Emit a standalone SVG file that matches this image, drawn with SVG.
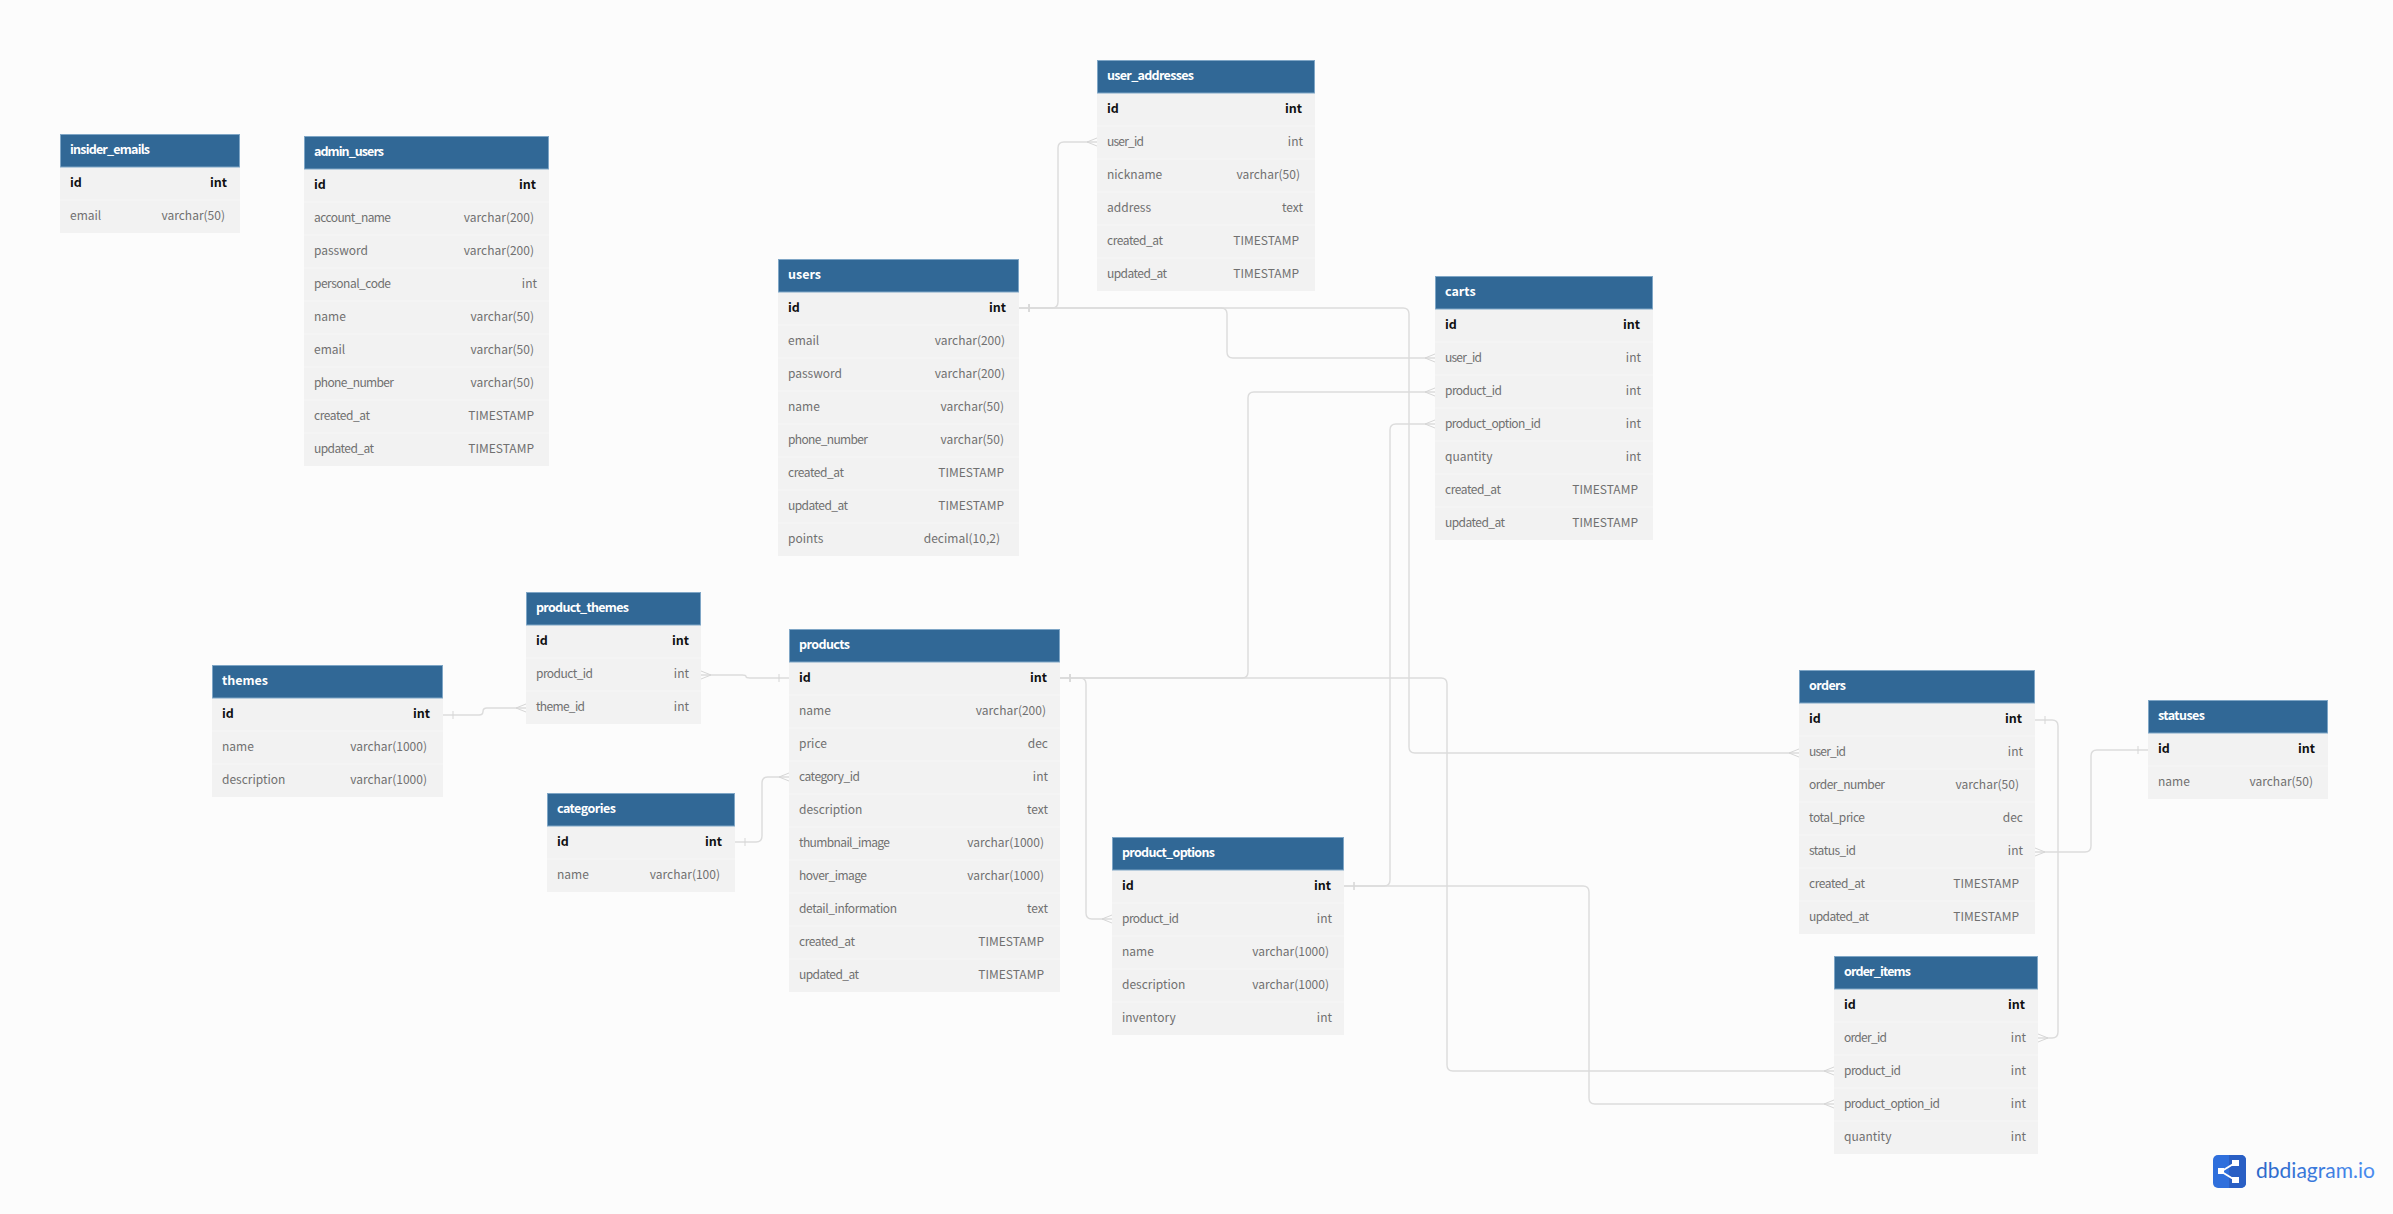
<svg xmlns="http://www.w3.org/2000/svg" width="2393" height="1214" viewBox="0 0 2393 1214">
<style>
text{font-family:"Noto Sans CJK KR","Noto Sans",sans-serif;font-size:12px;transform:translateY(-.5px)}
.hd{fill:#316896;stroke:#7fa6c6;stroke-width:1}
.bd{fill:#f2f2f2}
.sep{stroke:#f6f6f6;stroke-width:1;fill:none}
.tt{fill:#fff;font-weight:700;font-size:12.500px}
.pk{fill:#111;font-weight:700;font-size:12.500px}
.f{fill:#707070}
.e{text-anchor:end}
.c{fill:none;stroke:#dcdcdc;stroke-width:1.4}
.m{fill:none;stroke:#d6d6d6;stroke-width:1}
</style>
<defs>
<marker id="one" markerUnits="userSpaceOnUse" markerWidth="14" markerHeight="14" viewBox="-12 -7 14 14" refX="0" refY="0" orient="auto-start-reverse"><path class="m" d="M-10 -4V4"/></marker>
<marker id="many" markerUnits="userSpaceOnUse" markerWidth="14" markerHeight="14" viewBox="-12 -7 14 14" refX="0" refY="0" orient="auto-start-reverse"><path class="m" d="M0 -4L-10 0L0 4"/></marker>
<linearGradient id="lg" x1="0" x2="1" y1="0" y2="0"><stop offset="0" stop-color="#2a66c8"/><stop offset="1" stop-color="#4a8df0"/></linearGradient>
</defs>
<rect width="2393" height="1214" fill="#fcfcfc"/>
<g id="connectors">
<path class="c" marker-start="url(#one)" marker-end="url(#many)" d="M1019 308H1052Q1058 308 1058 302V148Q1058 142 1064 142H1097"/>
<path class="c" marker-start="url(#one)" marker-end="url(#many)" d="M1019 308H1221Q1227 308 1227 314V352Q1227 358 1233 358H1435"/>
<path class="c" marker-start="url(#one)" marker-end="url(#many)" d="M1019 308H1403Q1409 308 1409 314V747Q1409 753 1415 753H1799"/>
<path class="c" marker-start="url(#one)" marker-end="url(#many)" d="M1060 678H1242Q1248 678 1248 672V398Q1248 392 1254 392H1435"/>
<path class="c" marker-start="url(#one)" marker-end="url(#many)" d="M1060 678H1080Q1086 678 1086 684V913Q1086 919 1092 919H1112"/>
<path class="c" marker-start="url(#one)" marker-end="url(#many)" d="M1060 678H1441Q1447 678 1447 684V1065Q1447 1071 1453 1071H1834"/>
<path class="c" marker-start="url(#one)" marker-end="url(#many)" d="M1344 886H1384Q1390 886 1390 880V430Q1390 424 1396 424H1435"/>
<path class="c" marker-start="url(#one)" marker-end="url(#many)" d="M1344 886H1583Q1589 886 1589 892V1098Q1589 1104 1595 1104H1834"/>
<path class="c" marker-start="url(#one)" marker-end="url(#many)" d="M2035 720H2052Q2058 720 2058 726V1032Q2058 1038 2052 1038H2038"/>
<path class="c" marker-start="url(#one)" marker-end="url(#many)" d="M2148 750H2097Q2091 750 2091 756V846Q2091 852 2085 852H2035"/>
<path class="c" marker-start="url(#one)" marker-end="url(#many)" d="M789 678H750Q746 678 746 676.500Q746 675 742 675H701"/>
<path class="c" marker-start="url(#one)" marker-end="url(#many)" d="M443 715H479Q483 715 483 711.500Q483 708 487 708H526"/>
<path class="c" marker-start="url(#one)" marker-end="url(#many)" d="M735 842H756Q762 842 762 836V783Q762 777 768 777H789"/>
</g>
<g id="insider_emails" transform="translate(60 134)"><rect class="bd" y="33" width="180" height="66"/><path class="sep" d="M0 66H180"/><rect class="hd" x=".5" y=".5" width="179" height="32.500"/><text class="tt" x="10" y="20" textLength="80">insider_emails</text>
<text class="pk" x="10" y="53">id</text><text class="pk e" x="167" y="53">int</text>
<text class="f" x="10" y="86">email</text><text class="f e" x="165" y="86">varchar(50)</text></g>
<g id="admin_users" transform="translate(304 136)"><rect class="bd" y="33" width="245" height="297"/><path class="sep" d="M0 66H245M0 99H245M0 132H245M0 165H245M0 198H245M0 231H245M0 264H245M0 297H245"/><rect class="hd" x=".5" y=".5" width="244" height="32.500"/><text class="tt" x="10" y="20" textLength="70">admin_users</text>
<text class="pk" x="10" y="53">id</text><text class="pk e" x="232" y="53">int</text>
<text class="f" x="10" y="86" textLength="77">account_name</text><text class="f e" x="230" y="86">varchar(200)</text>
<text class="f" x="10" y="119">password</text><text class="f e" x="230" y="119">varchar(200)</text>
<text class="f" x="10" y="152" textLength="77">personal_code</text><text class="f e" x="233" y="152">int</text>
<text class="f" x="10" y="185">name</text><text class="f e" x="230" y="185">varchar(50)</text>
<text class="f" x="10" y="218">email</text><text class="f e" x="230" y="218">varchar(50)</text>
<text class="f" x="10" y="251" textLength="80">phone_number</text><text class="f e" x="230" y="251">varchar(50)</text>
<text class="f" x="10" y="284" textLength="56">created_at</text><text class="f e" x="230" y="284">TIMESTAMP</text>
<text class="f" x="10" y="317" textLength="60">updated_at</text><text class="f e" x="230" y="317">TIMESTAMP</text></g>
<g id="user_addresses" transform="translate(1097 60)"><rect class="bd" y="33" width="218" height="198"/><path class="sep" d="M0 66H218M0 99H218M0 132H218M0 165H218M0 198H218"/><rect class="hd" x=".5" y=".5" width="217" height="32.500"/><text class="tt" x="10" y="20" textLength="87">user_addresses</text>
<text class="pk" x="10" y="53">id</text><text class="pk e" x="205" y="53">int</text>
<text class="f" x="10" y="86" textLength="37">user_id</text><text class="f e" x="206" y="86">int</text>
<text class="f" x="10" y="119">nickname</text><text class="f e" x="203" y="119">varchar(50)</text>
<text class="f" x="10" y="152">address</text><text class="f e" x="206" y="152">text</text>
<text class="f" x="10" y="185" textLength="56">created_at</text><text class="f e" x="202" y="185">TIMESTAMP</text>
<text class="f" x="10" y="218" textLength="60">updated_at</text><text class="f e" x="202" y="218">TIMESTAMP</text></g>
<g id="users" transform="translate(778 259)"><rect class="bd" y="33" width="241" height="264"/><path class="sep" d="M0 66H241M0 99H241M0 132H241M0 165H241M0 198H241M0 231H241M0 264H241"/><rect class="hd" x=".5" y=".5" width="240" height="32.500"/><text class="tt" x="10" y="20">users</text>
<text class="pk" x="10" y="53">id</text><text class="pk e" x="228" y="53">int</text>
<text class="f" x="10" y="86">email</text><text class="f e" x="227" y="86">varchar(200)</text>
<text class="f" x="10" y="119">password</text><text class="f e" x="227" y="119">varchar(200)</text>
<text class="f" x="10" y="152">name</text><text class="f e" x="226" y="152">varchar(50)</text>
<text class="f" x="10" y="185" textLength="80">phone_number</text><text class="f e" x="226" y="185">varchar(50)</text>
<text class="f" x="10" y="218" textLength="56">created_at</text><text class="f e" x="226" y="218">TIMESTAMP</text>
<text class="f" x="10" y="251" textLength="60">updated_at</text><text class="f e" x="226" y="251">TIMESTAMP</text>
<text class="f" x="10" y="284">points</text><text class="f e" x="222" y="284">decimal(10,2)</text></g>
<g id="carts" transform="translate(1435 276)"><rect class="bd" y="33" width="218" height="231"/><path class="sep" d="M0 66H218M0 99H218M0 132H218M0 165H218M0 198H218M0 231H218"/><rect class="hd" x=".5" y=".5" width="217" height="32.500"/><text class="tt" x="10" y="20">carts</text>
<text class="pk" x="10" y="53">id</text><text class="pk e" x="205" y="53">int</text>
<text class="f" x="10" y="86" textLength="37">user_id</text><text class="f e" x="206" y="86">int</text>
<text class="f" x="10" y="119" textLength="57">product_id</text><text class="f e" x="206" y="119">int</text>
<text class="f" x="10" y="152" textLength="96">product_option_id</text><text class="f e" x="206" y="152">int</text>
<text class="f" x="10" y="185">quantity</text><text class="f e" x="206" y="185">int</text>
<text class="f" x="10" y="218" textLength="56">created_at</text><text class="f e" x="203" y="218">TIMESTAMP</text>
<text class="f" x="10" y="251" textLength="60">updated_at</text><text class="f e" x="203" y="251">TIMESTAMP</text></g>
<g id="themes" transform="translate(212 665)"><rect class="bd" y="33" width="231" height="99"/><path class="sep" d="M0 66H231M0 99H231"/><rect class="hd" x=".5" y=".5" width="230" height="32.500"/><text class="tt" x="10" y="20">themes</text>
<text class="pk" x="10" y="53">id</text><text class="pk e" x="218" y="53">int</text>
<text class="f" x="10" y="86">name</text><text class="f e" x="215" y="86">varchar(1000)</text>
<text class="f" x="10" y="119">description</text><text class="f e" x="215" y="119">varchar(1000)</text></g>
<g id="product_themes" transform="translate(526 592)"><rect class="bd" y="33" width="175" height="99"/><path class="sep" d="M0 66H175M0 99H175"/><rect class="hd" x=".5" y=".5" width="174" height="32.500"/><text class="tt" x="10" y="20" textLength="93">product_themes</text>
<text class="pk" x="10" y="53">id</text><text class="pk e" x="163" y="53">int</text>
<text class="f" x="10" y="86" textLength="57">product_id</text><text class="f e" x="163" y="86">int</text>
<text class="f" x="10" y="119" textLength="49">theme_id</text><text class="f e" x="163" y="119">int</text></g>
<g id="products" transform="translate(789 629)"><rect class="bd" y="33" width="271" height="330"/><path class="sep" d="M0 66H271M0 99H271M0 132H271M0 165H271M0 198H271M0 231H271M0 264H271M0 297H271M0 330H271"/><rect class="hd" x=".5" y=".5" width="270" height="32.500"/><text class="tt" x="10" y="20" textLength="51">products</text>
<text class="pk" x="10" y="53">id</text><text class="pk e" x="258" y="53">int</text>
<text class="f" x="10" y="86">name</text><text class="f e" x="257" y="86">varchar(200)</text>
<text class="f" x="10" y="119">price</text><text class="f e" x="259" y="119">dec</text>
<text class="f" x="10" y="152" textLength="61">category_id</text><text class="f e" x="259" y="152">int</text>
<text class="f" x="10" y="185">description</text><text class="f e" x="259" y="185">text</text>
<text class="f" x="10" y="218" textLength="91">thumbnail_image</text><text class="f e" x="255" y="218">varchar(1000)</text>
<text class="f" x="10" y="251" textLength="68">hover_image</text><text class="f e" x="255" y="251">varchar(1000)</text>
<text class="f" x="10" y="284" textLength="98">detail_information</text><text class="f e" x="259" y="284">text</text>
<text class="f" x="10" y="317" textLength="56">created_at</text><text class="f e" x="255" y="317">TIMESTAMP</text>
<text class="f" x="10" y="350" textLength="60">updated_at</text><text class="f e" x="255" y="350">TIMESTAMP</text></g>
<g id="categories" transform="translate(547 793)"><rect class="bd" y="33" width="188" height="66"/><path class="sep" d="M0 66H188"/><rect class="hd" x=".5" y=".5" width="187" height="32.500"/><text class="tt" x="10" y="20" textLength="59">categories</text>
<text class="pk" x="10" y="53">id</text><text class="pk e" x="175" y="53">int</text>
<text class="f" x="10" y="86">name</text><text class="f e" x="173" y="86">varchar(100)</text></g>
<g id="product_options" transform="translate(1112 837)"><rect class="bd" y="33" width="232" height="165"/><path class="sep" d="M0 66H232M0 99H232M0 132H232M0 165H232"/><rect class="hd" x=".5" y=".5" width="231" height="32.500"/><text class="tt" x="10" y="20" textLength="93">product_options</text>
<text class="pk" x="10" y="53">id</text><text class="pk e" x="219" y="53">int</text>
<text class="f" x="10" y="86" textLength="57">product_id</text><text class="f e" x="220" y="86">int</text>
<text class="f" x="10" y="119">name</text><text class="f e" x="217" y="119">varchar(1000)</text>
<text class="f" x="10" y="152">description</text><text class="f e" x="217" y="152">varchar(1000)</text>
<text class="f" x="10" y="185">inventory</text><text class="f e" x="220" y="185">int</text></g>
<g id="orders" transform="translate(1799 670)"><rect class="bd" y="33" width="236" height="231"/><path class="sep" d="M0 66H236M0 99H236M0 132H236M0 165H236M0 198H236M0 231H236"/><rect class="hd" x=".5" y=".5" width="235" height="32.500"/><text class="tt" x="10" y="20" textLength="37">orders</text>
<text class="pk" x="10" y="53">id</text><text class="pk e" x="223" y="53">int</text>
<text class="f" x="10" y="86" textLength="37">user_id</text><text class="f e" x="224" y="86">int</text>
<text class="f" x="10" y="119" textLength="76">order_number</text><text class="f e" x="220" y="119">varchar(50)</text>
<text class="f" x="10" y="152" textLength="56">total_price</text><text class="f e" x="224" y="152">dec</text>
<text class="f" x="10" y="185" textLength="47">status_id</text><text class="f e" x="224" y="185">int</text>
<text class="f" x="10" y="218" textLength="56">created_at</text><text class="f e" x="220" y="218">TIMESTAMP</text>
<text class="f" x="10" y="251" textLength="60">updated_at</text><text class="f e" x="220" y="251">TIMESTAMP</text></g>
<g id="order_items" transform="translate(1834 956)"><rect class="bd" y="33" width="204" height="165"/><path class="sep" d="M0 66H204M0 99H204M0 132H204M0 165H204"/><rect class="hd" x=".5" y=".5" width="203" height="32.500"/><text class="tt" x="10" y="20" textLength="67">order_items</text>
<text class="pk" x="10" y="53">id</text><text class="pk e" x="191" y="53">int</text>
<text class="f" x="10" y="86" textLength="43">order_id</text><text class="f e" x="192" y="86">int</text>
<text class="f" x="10" y="119" textLength="57">product_id</text><text class="f e" x="192" y="119">int</text>
<text class="f" x="10" y="152" textLength="96">product_option_id</text><text class="f e" x="192" y="152">int</text>
<text class="f" x="10" y="185">quantity</text><text class="f e" x="192" y="185">int</text></g>
<g id="statuses" transform="translate(2148 700)"><rect class="bd" y="33" width="180" height="66"/><path class="sep" d="M0 66H180"/><rect class="hd" x=".5" y=".5" width="179" height="32.500"/><text class="tt" x="10" y="20" textLength="47">statuses</text>
<text class="pk" x="10" y="53">id</text><text class="pk e" x="167" y="53">int</text>
<text class="f" x="10" y="86">name</text><text class="f e" x="165" y="86">varchar(50)</text></g>
<g id="logo">
<rect x="2213" y="1155" width="33" height="33" rx="5" fill="#2f6fdc"/>
<path d="M2229 1155h12a5 5 0 0 1 5 5v23a5 5 0 0 1-5 5h-12z" fill="#2a5fc4"/>
<path d="M2221 1171.500L2235 1163M2221 1171.500L2235 1180" stroke="#fff" stroke-width="2" fill="none"/>
<rect x="2218" y="1168" width="6" height="6" fill="#fff"/><rect x="2232" y="1160" width="7" height="6" fill="#fff"/><rect x="2232" y="1177" width="7" height="6" fill="#fff"/>
<text x="2256" y="1178" style="font-family:Lato,sans-serif;font-size:21px" textLength="119" fill="url(#lg)">dbdiagram.io</text>
</g>
</svg>
